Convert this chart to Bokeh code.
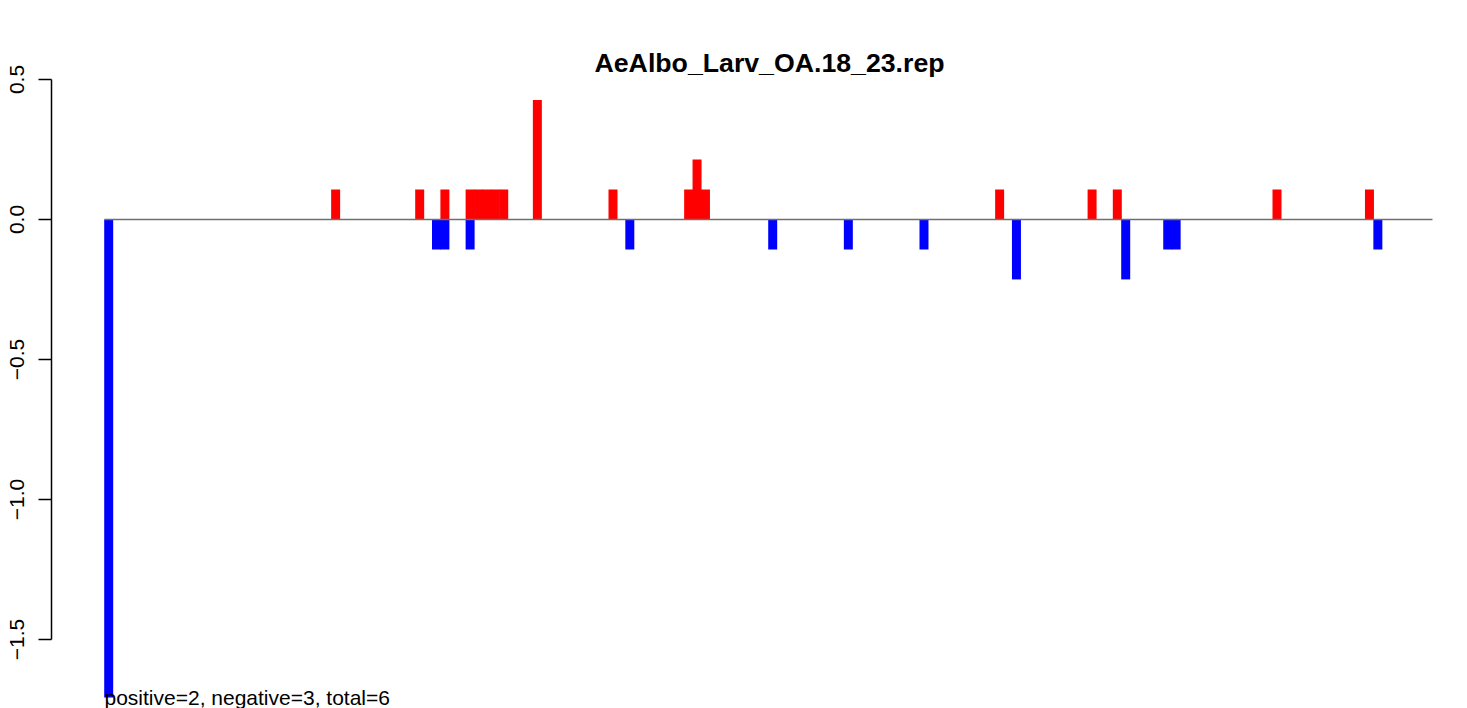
import math
from bokeh.plotting import figure
from bokeh.models import Range1d, FixedTicker
from bokeh.core.properties import value
from bokeh.embed import file_html
from bokeh.resources import INLINE

# ---- data ----
chart_title = "AeAlbo_Larv_OA.18_23.rep"
n_positions = 158

pos_index = [27, 37, 40, 43, 44, 45, 46, 47, 51, 60, 69, 70, 71, 106, 117, 120, 139, 150]
pos_values = [0.107, 0.107, 0.107, 0.107, 0.107, 0.107, 0.107, 0.107, 0.427,
              0.107, 0.107, 0.214, 0.107, 0.107, 0.107, 0.107, 0.107, 0.107]

neg_index = [0, 39, 40, 43, 62, 79, 88, 97, 108, 121, 126, 127, 151]
neg_values = [-1.707, -0.107, -0.107, -0.107, -0.107, -0.107, -0.107, -0.107,
              -0.214, -0.214, -0.107, -0.107, -0.107]

y_ticks = [-1.5, -1.0, -0.5, 0.0, 0.5]
y_tick_labels = ["\u22121.5", "\u22121.0", "\u22120.5", "0.0", "0.5"]
summary_text = "positive=2, negative=3, total=6"

# ---- layout geometry (pixels) ----
W, H = 1467, 708
frame_top = 76
frame_left = 51
px_per_slot = 8.405        # horizontal pixels per bar slot
origin_px = 104            # page x of slot 0
px_per_unit = 280.0        # vertical pixels per y unit
zero_px = 219              # page y of value 0

x_start = (frame_left - origin_px) / px_per_slot
x_end = x_start + (W - frame_left) / px_per_slot
y_top = (zero_px - frame_top) / px_per_unit
y_bottom = (zero_px - H) / px_per_unit

p = figure(width=W, height=H, output_backend="svg", toolbar_location=None,
           x_range=Range1d(x_start, x_end), y_range=Range1d(y_bottom, y_top),
           min_border_left=frame_left, min_border_right=0, min_border_top=frame_top,
           min_border_bottom=0, x_axis_location=None, title=chart_title)
p.grid.visible = False
p.outline_line_color = None
p.background_fill_color = "white"
p.border_fill_color = "white"

p.title.text_font = "Liberation Sans"
p.title.text_font_style = "bold"
p.title.text_font_size = "26.7px"
p.title.text_color = "black"
p.title.align = "left"
p.title.offset = 594 - frame_left
p.title.standoff = -3

p.vbar(x=[i + 0.5 for i in pos_index], width=1.07, bottom=0, top=pos_values,
       fill_color="#FF0000", line_color=None)
p.vbar(x=[i + 0.5 for i in neg_index], width=1.07, bottom=0, top=neg_values,
       fill_color="#0000FF", line_color=None)

p.segment(x0=[0], y0=[0], x1=[n_positions], y1=[0], line_color="#6f6f6f", line_width=1.3)

p.text(x=[0], y=[min(neg_values)], text=[summary_text], text_font=value("Liberation Sans"),
       text_font_size="21px", text_align="left", text_baseline="alphabetic", text_color="black")

ax = p.yaxis[0]
ax.ticker = FixedTicker(ticks=y_ticks)
ax.major_label_overrides = dict(zip(y_ticks, y_tick_labels))
ax.bounds = (min(y_ticks), max(y_ticks))
ax.major_tick_out = 13
ax.major_tick_in = 0
ax.minor_tick_out = 0
ax.minor_tick_in = 0
ax.major_label_orientation = "parallel"
ax.major_label_text_font = "Liberation Sans"
ax.major_label_text_font_size = "21px"
ax.major_label_text_color = "black"
ax.major_label_standoff = 15
ax.axis_line_color = "black"
ax.major_tick_line_color = "black"
ax.axis_line_width = 1.5
ax.major_tick_line_width = 1.5

open("out.html", "w").write(file_html(p, INLINE))
